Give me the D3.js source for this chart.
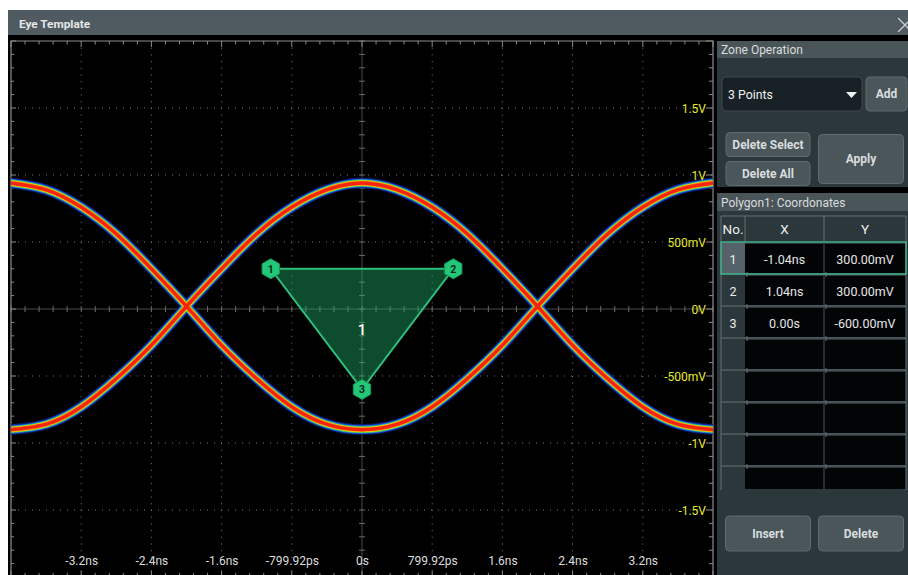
<!DOCTYPE html>
<html><head><meta charset="utf-8">
<script src="https://cdn.jsdelivr.net/npm/d3@7/dist/d3.min.js"></script>
<style>body{margin:0;background:#fff;font-family:Roboto,"Open Sans",sans-serif}svg{display:block}</style>
</head><body><svg id="c" width="908" height="575"></svg>
<script>
// ---- data ----
const timeTicks  = [-3.2, -2.4, -1.6, -0.8, 0, 0.8, 1.6, 2.4, 3.2];
const timeLabels = ["-3.2ns", "-2.4ns", "-1.6ns", "-799.92ps", "0s", "799.92ps", "1.6ns", "2.4ns", "3.2ns"];
const voltTicks  = [1.5, 1, 0.5, 0, -0.5, -1, -1.5];
const voltLabels = ["1.5V", "1V", "500mV", "0V", "-500mV", "-1V", "-1.5V"];
const sampleTimes = [-4, -3.6, -3.2, -2.8, -2.4, -2.0, -1.6, -1.2, -0.8, -0.4, 0, 0.4, 0.8, 1.2, 1.6, 2.0, 2.4, 2.8, 3.2, 3.6, 4];
const traceA = [-0.90, -0.86, -0.73, -0.52, -0.27, 0.02, 0.30, 0.56, 0.76, 0.89, 0.94, 0.89, 0.76, 0.56, 0.30, 0.02, -0.27, -0.52, -0.73, -0.86, -0.90];
const traceB = [0.94, 0.89, 0.76, 0.56, 0.30, 0.02, -0.27, -0.52, -0.73, -0.86, -0.90, -0.86, -0.73, -0.52, -0.27, 0.02, 0.30, 0.56, 0.76, 0.89, 0.94];
const polyX = [-1.04, 1.04, 0];
const polyY = [0.3, 0.3, -0.6];
const polyNames = ["1", "2", "3"];
const tableX = ["-1.04ns", "1.04ns", "0.00s"];
const tableY = ["300.00mV", "300.00mV", "-600.00mV"];
const zoneMode = "3 Points";

const svg = d3.select("#c");
const W = 908, H = 575;
const L = 11, T = 41, R = 713, B = 577;
const x = d3.scaleLinear().domain([-4, 4]).range([L, R]);
const y = d3.scaleLinear().domain([-2, 2]).range([B, T]);

// window frame
svg.append("rect").attr("width", W).attr("height", H).attr("fill", "#fff");
svg.append("rect").attr("x", 8).attr("y", 10).attr("width", 900).attr("height", 26).attr("fill", "#4f5b60");
svg.append("rect").attr("x", 8).attr("y", 35).attr("width", 900).attr("height", 540).attr("fill", "#000");
svg.append("text").attr("x", 19).attr("y", 28).attr("fill", "#e6e8e9").attr("font-size", 11.8).attr("font-weight", 700).text("Eye Template");
svg.append("path").attr("d", "M898,18L912,32M912,18L898,32").attr("stroke", "#c8cccd").attr("stroke-width", 1.3);

// plot
const plot = svg.append("g");
svg.append("defs").append("clipPath").attr("id", "pc").append("rect")
  .attr("x", L).attr("y", T).attr("width", R - L).attr("height", B - T);

// dotted grid
const gridX = timeTicks.filter(d => d !== 0);
const gridY = voltTicks.filter(d => d !== 0);
plot.selectAll(".gx").data(gridX).join("line")
  .attr("x1", d => x(d)).attr("x2", d => x(d)).attr("y1", T).attr("y2", B)
  .attr("stroke", "#7a7a7a").attr("stroke-width", 1).attr("stroke-dasharray", "1,5.7");
plot.selectAll(".gy").data(gridY).join("line")
  .attr("x1", L).attr("x2", R).attr("y1", d => y(d)).attr("y2", d => y(d))
  .attr("stroke", "#7a7a7a").attr("stroke-width", 1).attr("stroke-dasharray", "1,6");

// centre axes
plot.append("line").attr("x1", L).attr("x2", R).attr("y1", y(0)).attr("y2", y(0)).attr("stroke", "#4a4a4a");
plot.append("line").attr("x1", x(0)).attr("x2", x(0)).attr("y1", T).attr("y2", B).attr("stroke", "#4a4a4a");
const minorX = d3.range(-4, 4.0001, 0.16);
const minorY = d3.range(-2, 2.0001, 0.1);
plot.selectAll(".cmx").data(minorX).join("line")
  .attr("x1", d => x(d)).attr("x2", d => x(d)).attr("y1", y(0) - 3).attr("y2", y(0) + 3).attr("stroke", "#6a6a6a");
plot.selectAll(".cmy").data(minorY).join("line")
  .attr("x1", x(0) - 3).attr("x2", x(0) + 3).attr("y1", d => y(d)).attr("y2", d => y(d)).attr("stroke", "#6a6a6a");

// border + border ticks
plot.append("path").attr("d", `M${L},${B}V${T}H${R}V${B}`).attr("fill", "none").attr("stroke", "#8a8a8a").attr("stroke-width", 1.2);
const isMajX = d => Math.abs(Math.round(d / 0.8) * 0.8 - d) < 1e-6;
const isMajY = d => Math.abs(Math.round(d / 0.5) * 0.5 - d) < 1e-6;
plot.selectAll(".tt").data(minorX).join("line")
  .attr("x1", d => x(d)).attr("x2", d => x(d)).attr("y1", T).attr("y2", d => T + (isMajX(d) ? 6 : 3.5)).attr("stroke", "#8a8a8a");
plot.selectAll(".bt").data(minorX).join("line")
  .attr("x1", d => x(d)).attr("x2", d => x(d)).attr("y1", B).attr("y2", d => B - (isMajX(d) ? 6 : 4)).attr("stroke", "#8a8a8a");
plot.selectAll(".lt").data(minorY).join("line")
  .attr("x1", L).attr("x2", d => L + (isMajY(d) ? 5 : 3)).attr("y1", d => y(d)).attr("y2", d => y(d)).attr("stroke", "#8a8a8a");
plot.selectAll(".rt").data(minorY).join("line")
  .attr("x1", R).attr("x2", d => R - (isMajY(d) ? 7 : 4)).attr("y1", d => y(d)).attr("y2", d => y(d)).attr("stroke", "#8a8a8a");

// eye traces (heat-map style layered strokes)
const line = d3.line().x(d => x(d[0])).y(d => y(d[1])).curve(d3.curveNatural);
const traces = [traceA, traceB].map(tr => sampleTimes.map((t, i) => [t, tr[i]]));
const layers = [
  ["#0a1a78", 11, 0.8], ["#1a45d0", 9, 1], ["#18a8c8", 7.4, 1], ["#5cc83a", 6.4, 1],
  ["#f0dc18", 5.4, 1], ["#ff7000", 4.4, 1], ["#f42410", 3.2, 1]
];
const tg = plot.append("g").attr("clip-path", "url(#pc)");
layers.forEach(([c, w, o]) => {
  tg.selectAll(null).data(traces).join("path")
    .attr("d", line).attr("fill", "none").attr("stroke", c).attr("stroke-width", w).attr("stroke-opacity", o);
});

// axis labels (inside plot)
const xAxis = d3.axisBottom(x).tickValues(timeTicks).tickFormat((d, i) => timeLabels[i]).tickSize(0);
const gxA = svg.append("g").attr("transform", `translate(0,${553})`).call(xAxis);
gxA.select(".domain").remove();
gxA.selectAll("text").attr("fill", "#dcdcdc").attr("font-size", 12).attr("font-family", "Roboto");
const yAxis = d3.axisLeft(y).tickValues(voltTicks).tickFormat((d, i) => voltLabels[i]).tickSize(0).tickPadding(0);
const gyA = svg.append("g").attr("transform", `translate(${706},1)`).call(yAxis);
gyA.select(".domain").remove();
gyA.selectAll("text").attr("fill", "#eaea2c").attr("font-size", 12).attr("font-family", "Roboto");

// polygon zone
const pts = polyX.map((v, i) => [x(v), y(polyY[i])]);
plot.append("polygon").attr("points", pts.map(p => p.join(",")).join(" "))
  .attr("fill", "#22b56e").attr("fill-opacity", 0.42).attr("stroke", "#2cc07c").attr("stroke-width", 2);
const cx = (d3.min(polyX) + d3.max(polyX)) / 2, cy = (d3.min(polyY) + d3.max(polyY)) / 2;
plot.append("text").attr("x", x(cx)).attr("y", y(cy)).attr("dy", "0.36em").attr("text-anchor", "middle")
  .attr("fill", "#fff").attr("font-size", 15).attr("font-weight", 500).text("1");
const hex = r => d3.range(6).map(k => { const a = (-90 + 60 * k) * Math.PI / 180; return [r * Math.cos(a), r * Math.sin(a)]; });
const hexLine = d3.line().curve(d3.curveLinearClosed);
const hg = plot.selectAll(".hx").data(pts).join("g").attr("transform", d => `translate(${d[0]},${d[1]})`);
hg.append("path").attr("d", hexLine(hex(10))).attr("fill", "#22c878").attr("stroke", "#14985a").attr("stroke-width", 1);
hg.append("text").attr("dy", "0.36em").attr("text-anchor", "middle").attr("fill", "#0a2a1a")
  .attr("font-size", 10.5).attr("font-weight", 700).text((d, i) => polyNames[i]);

// ---- right panel ----
const P = svg.append("g").attr("font-family", "Roboto");
const panelBg = "#2c373c", hdrBg = "#4a5559", btnBg = "#4a5659", btnBd = "#5f6b6e", txt = "#d9dddf";
P.append("rect").attr("x", 717).attr("y", 41).attr("width", 191).attr("height", 146).attr("fill", panelBg);
P.append("rect").attr("x", 717).attr("y", 41).attr("width", 191).attr("height", 17).attr("fill", hdrBg);
P.append("text").attr("x", 721).attr("y", 54).attr("fill", txt).attr("font-size", 12).text("Zone Operation");
P.append("rect").attr("x", 722).attr("y", 77).attr("width", 140).attr("height", 34).attr("rx", 4).attr("fill", "#182125").attr("stroke", "#3e494d");
P.append("text").attr("x", 728).attr("y", 98.5).attr("fill", "#eef0f0").attr("font-size", 12.3).text(zoneMode);
P.append("path").attr("d", "M846,92H857L851.5,98Z").attr("fill", "#eef0f0");
function button(x0, y0, w, h, label) {
  P.append("rect").attr("x", x0).attr("y", y0).attr("width", w).attr("height", h).attr("rx", 4)
    .attr("fill", btnBg).attr("stroke", btnBd).attr("stroke-width", 1);
  P.append("text").attr("x", x0 + w / 2).attr("y", y0 + h / 2).attr("dy", "0.36em").attr("text-anchor", "middle")
    .attr("fill", txt).attr("font-size", 12).attr("font-weight", 700).text(label);
}
button(866, 77, 41, 34, "Add");
button(726, 132.5, 84, 24, "Delete Select");
button(726, 161.5, 84, 24, "Delete All");
button(818.5, 134.5, 85, 49, "Apply");

P.append("rect").attr("x", 717).attr("y", 193).attr("width", 191).attr("height", 382).attr("fill", panelBg);
P.append("rect").attr("x", 717).attr("y", 193).attr("width", 191).attr("height", 18).attr("fill", hdrBg);
P.append("text").attr("x", 721).attr("y", 206.5).attr("fill", txt).attr("font-size", 12).text("Polygon1: Coordonates");

// table
const colX = [721, 745, 824, 906];
const hdrs = ["No.", "X", "Y"];
const rowTop = 242, rowH = 32, nRows = 8, tblBottom = 490;
const gridC = "#657175";
P.selectAll(".th").data(hdrs).join("text")
  .attr("x", (d, i) => (colX[i] + colX[i + 1]) / 2).attr("y", 229).attr("dy", "0.36em").attr("text-anchor", "middle")
  .attr("fill", "#eceeee").attr("font-size", 13.5).text(d => d);
const rows = d3.range(nRows);
rows.forEach(r => {
  const y0 = rowTop + r * rowH, y1 = Math.min(y0 + rowH, tblBottom);
  if (r === 0) P.append("rect").attr("x", colX[0]).attr("y", y0).attr("width", colX[1] - colX[0]).attr("height", y1 - y0).attr("fill", "#56626a");
  P.append("rect").attr("x", colX[1]).attr("y", y0 + 2).attr("width", colX[3] - colX[1]).attr("height", y1 - y0 - 3).attr("fill", "#030405");
  P.append("line").attr("x1", colX[2]).attr("x2", colX[2]).attr("y1", y0 + 2).attr("y2", y1).attr("stroke", "#4c575b");
  if (r > 0) {
    P.append("line").attr("x1", colX[0]).attr("x2", colX[3]).attr("y1", y0).attr("y2", y0).attr("stroke", gridC);
    [colX[1] + 2, colX[2] + 2].forEach(tx => P.append("line").attr("x1", tx).attr("x2", tx).attr("y1", y0 - 2).attr("y2", y0 + 3).attr("stroke", gridC));
  }
});
P.append("line").attr("x1", colX[0]).attr("x2", colX[3]).attr("y1", 216).attr("y2", 216).attr("stroke", gridC);
P.append("line").attr("x1", colX[0]).attr("x2", colX[0]).attr("y1", 216).attr("y2", tblBottom).attr("stroke", gridC);
P.append("line").attr("x1", colX[3]).attr("x2", colX[3]).attr("y1", 216).attr("y2", tblBottom).attr("stroke", gridC);
P.append("line").attr("x1", colX[1]).attr("x2", colX[1]).attr("y1", 216).attr("y2", rowTop).attr("stroke", gridC);
P.append("line").attr("x1", colX[2]).attr("x2", colX[2]).attr("y1", 216).attr("y2", rowTop).attr("stroke", gridC);
P.append("rect").attr("x", colX[0]).attr("y", rowTop).attr("width", colX[3] - colX[0]).attr("height", rowH)
  .attr("fill", "none").attr("stroke", "#3fae86").attr("stroke-width", 1.5);
tableX.forEach((v, i) => {
  const yc = rowTop + i * rowH + rowH / 2 + 1;
  P.append("text").attr("x", (colX[0] + colX[1]) / 2).attr("y", yc).attr("dy", "0.36em").attr("text-anchor", "middle").attr("fill", "#eceeee").attr("font-size", 12.5).text(i + 1);
  P.append("text").attr("x", (colX[1] + colX[2]) / 2).attr("y", yc).attr("dy", "0.36em").attr("text-anchor", "middle").attr("fill", "#e6e8e8").attr("font-size", 12.5).text(v);
  P.append("text").attr("x", (colX[2] + colX[3]) / 2).attr("y", yc).attr("dy", "0.36em").attr("text-anchor", "middle").attr("fill", "#e6e8e8").attr("font-size", 12.5).text(tableY[i]);
});
button(725.5, 516, 85, 35, "Insert");
button(818.5, 516, 85, 35, "Delete");
</script></body></html>
